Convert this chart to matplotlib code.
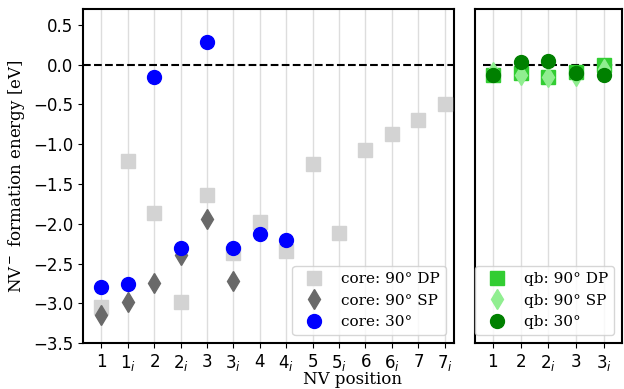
import matplotlib.pyplot as plt

# NV positions (core panel)
core_labels = ['1', '1_i', '2', '2_i', '3', '3_i', '4', '4_i',
               '5', '5_i', '6', '6_i', '7', '7_i']
core_dp = [-3.04, -1.21, -1.86, -2.98, -1.64, -2.37, -1.98, -2.34,
           -1.25, -2.12, -1.07, -0.87, -0.69, -0.49]
core_sp = [-3.15, -2.98, -2.74, -2.39, -1.94, -2.72]
core_30 = [-2.79, -2.76, -0.15, -2.31, 0.29, -2.30, -2.13, -2.20]

# NV positions (qb panel)
qb_labels = ['1', '2', '2_i', '3', '3_i']
qb_dp = [-0.13, -0.11, -0.15, -0.09, 0.0]
qb_sp = [-0.09, -0.13, -0.155, -0.14, -0.06]
qb_30 = [-0.13, 0.03, 0.04, -0.105, -0.13]


def tick_text(lab):
    return '$' + lab + '$'


fig = plt.figure(figsize=(6.24, 3.89), dpi=100)
gs = fig.add_gridspec(1, 2, width_ratios=[377, 150], wspace=0.08,
                      left=0.133, right=0.997, bottom=0.118, top=0.977)
ax1 = fig.add_subplot(gs[0])
ax2 = fig.add_subplot(gs[1], sharey=ax1)

serif = {'family': 'DejaVu Serif'}

# core panel
ax1.plot(range(len(core_dp)), core_dp, 's', color='lightgrey', ms=10,
         label='core: 90° DP', zorder=3)
ax1.plot(range(len(core_sp)), core_sp, 'd', color='dimgrey', ms=10,
         label='core: 90° SP', zorder=3)
ax1.plot(range(len(core_30)), core_30, 'o', color='blue', ms=10,
         label='core: 30°', zorder=3)
ax1.axhline(0, color='black', ls='--', lw=1.5, zorder=2)
ax1.set_xticks(range(len(core_labels)))
ax1.set_xticklabels([tick_text(l) for l in core_labels])
ax1.set_xlim(-0.7, 13.35)
ax1.set_ylim(-3.5, 0.7)
ax1.set_yticks([0.5, 0.0, -0.5, -1.0, -1.5, -2.0, -2.5, -3.0, -3.5])
ax1.grid(axis='x', color='#dddddd', lw=1)
ax1.set_ylabel('NV$^-$ formation energy [eV]', fontdict=serif, fontsize=12)
ax1.legend(loc='lower right', prop={'family': 'DejaVu Serif', 'size': 11})

# qb panel
ax2.plot(range(len(qb_dp)), qb_dp, 's', color='limegreen', ms=10,
         label='qb: 90° DP', zorder=3)
ax2.plot(range(len(qb_sp)), qb_sp, 'd', color='lightgreen', ms=10,
         label='qb: 90° SP', zorder=3)
ax2.plot(range(len(qb_30)), qb_30, 'o', color='green', ms=10,
         label='qb: 30°', zorder=3)
ax2.plot([-0.35, 4.7], [0, 0], color='black', ls='--', lw=1.5, zorder=2)
ax2.set_xticks(range(len(qb_labels)))
ax2.set_xticklabels([tick_text(l) for l in qb_labels])
ax2.set_xlim(-0.66, 4.67)
ax2.grid(axis='x', color='#dddddd', lw=1)
ax2.tick_params(axis='y', left=False, labelleft=False)
ax2.legend(loc='lower right', prop={'family': 'DejaVu Serif', 'size': 11})

for ax in (ax1, ax2):
    ax.tick_params(labelsize=12)
    for sp in ax.spines.values():
        sp.set_linewidth(1.5)

fig.text(0.565, 0.002, 'NV position', ha='center', va='bottom',
         fontdict=serif, fontsize=12)

fig.savefig('out.png', dpi=100)
